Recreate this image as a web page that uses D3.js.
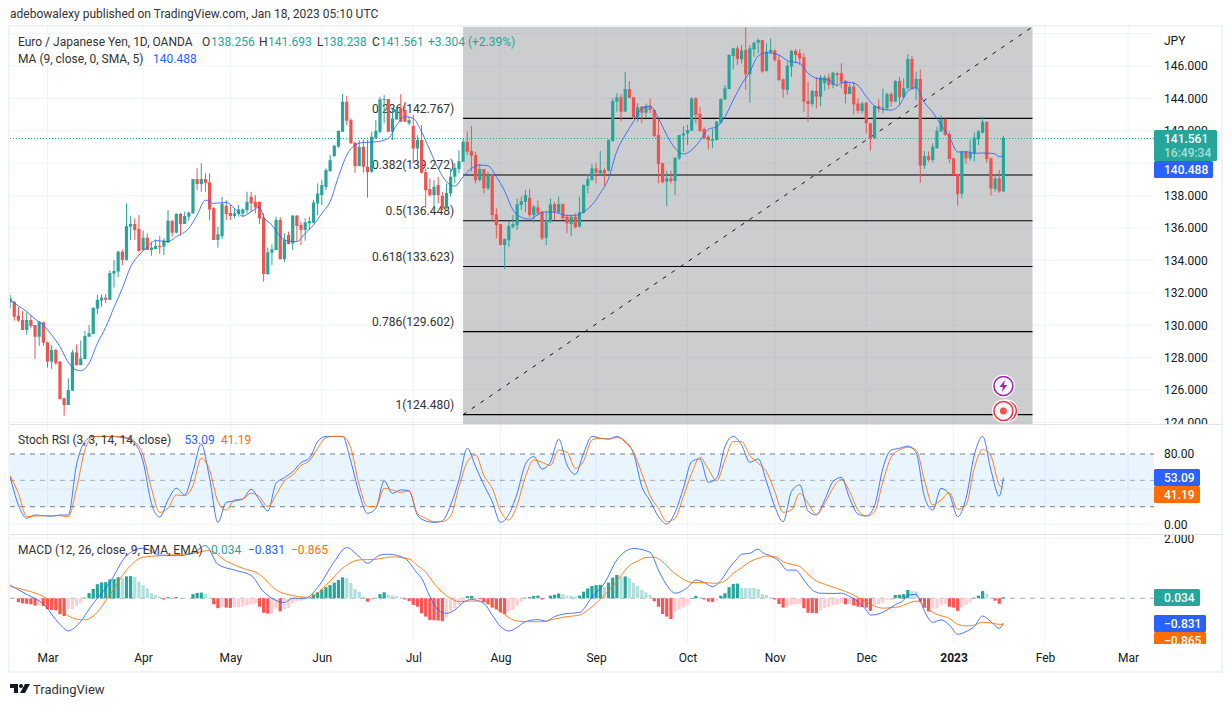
<!DOCTYPE html>
<html>
<head>
<meta charset="utf-8">
<script src="https://cdn.jsdelivr.net/npm/d3@7"></script>
<style>
	html, body {margin: 0; padding: 0; background: #fff;}
	svg {display: block;}
	text {font-family: Roboto, sans-serif; font-size: 12px; fill: #131722;}
</style>
</head>
<body>
<div id="chart"></div>
<script>
// daily candles, one entry per trading day (last one is Jan 18 2023)
var opens = [131.41,131.45,130.59,130.32,129.70,130.32,130.01,129.29,130.18,128.94,
	127.75,128.47,127.75,125.49,125.07,125.96,128.32,127.54,127.91,129.29,
	129.46,131.02,131.52,131.70,131.56,133.18,133.31,134.54,134.03,136.08,
	136.25,135.94,134.64,135.40,134.64,134.70,134.89,134.85,135.10,136.43,
	135.71,136.87,136.25,136.70,136.90,139.02,138.71,139.02,138.81,137.22,
	135.26,135.50,137.37,136.93,136.74,136.87,136.90,137.10,137.93,137.62,
	137.62,136.64,133.16,134.48,134.64,136.50,134.07,135.57,135.05,136.76,
	136.19,135.88,136.29,136.33,137.52,138.03,138.54,139.51,140.44,141.02,
	141.94,143.79,142.66,141.26,139.82,141.01,139.78,139.47,141.53,141.94,
	143.90,143.96,141.94,142.70,143.38,143.28,142.46,142.29,140.91,141.43,
	139.45,138.40,138.03,138.65,137.99,137.21,138.14,139.17,139.64,140.09,
	141.33,140.75,140.50,138.96,139.64,138.45,139.31,136.84,136.24,134.95,
	135.25,136.08,136.18,137.42,137.62,137.87,136.80,137.27,137.00,135.40,
	136.39,137.46,136.97,137.48,136.70,136.25,136.70,136.08,136.94,138.61,
	138.96,139.68,139.37,139.58,139.54,141.37,143.80,144.07,143.18,144.58,
	144.07,142.81,143.49,143.12,143.53,143.28,141.74,139.99,138.86,139.06,
	138.90,140.30,141.70,141.84,142.01,144.00,143.04,142.11,141.64,141.39,
	141.43,142.50,143.94,144.58,146.62,147.09,146.41,146.99,145.50,147.03,
	147.44,147.60,145.69,146.84,146.95,146.37,145.17,144.52,145.96,146.93,
	146.78,146.53,143.84,143.65,144.46,144.11,144.93,145.30,144.83,145.55,
	145.55,145.09,144.27,144.72,143.69,143.22,143.74,142.46,141.53,143.53,
	143.39,143.39,144.27,143.80,145.07,144.07,144.62,146.43,144.62,145.20,
	139.85,140.44,140.20,140.92,141.95,142.73,141.80,140.30,139.33,138.10,
	140.71,140.30,140.61,141.47,141.88,142.56,140.30,138.41,139.06,138.256];
var highs = [131.87,131.49,131.14,130.88,130.80,130.63,130.01,130.22,130.22,128.98,
	128.78,128.53,127.79,125.53,126.72,128.47,128.82,129.05,129.64,130.01,
	131.08,131.87,131.91,131.91,133.37,134.03,134.60,134.68,137.52,136.76,
	136.60,136.80,135.84,135.67,135.16,135.30,135.51,135.36,137.11,136.50,
	136.91,136.91,137.01,137.01,139.02,139.68,139.99,139.37,139.37,137.28,
	136.08,137.93,137.72,137.42,137.22,137.42,137.21,138.24,138.24,138.03,
	137.62,136.91,134.79,134.99,136.70,136.66,135.67,135.77,136.80,136.80,
	136.39,136.60,136.70,137.73,138.75,138.96,139.68,140.50,141.12,142.00,
	144.27,144.16,142.76,141.32,141.43,141.47,141.43,141.94,142.66,144.10,
	144.20,143.96,143.38,143.38,144.27,143.79,142.87,142.97,141.73,142.35,
	139.68,139.06,138.96,139.16,138.24,138.75,139.68,139.99,140.81,141.53,
	141.95,142.30,140.71,139.95,139.64,139.48,139.37,137.21,136.24,135.36,
	136.43,136.80,137.83,137.93,138.34,138.40,137.42,137.69,137.07,137.00,
	137.83,137.62,137.93,137.52,136.80,136.80,136.90,137.93,138.69,139.27,
	139.95,139.99,140.75,139.68,141.47,144.00,144.31,144.27,145.65,145.07,
	144.07,143.69,143.53,143.69,144.00,143.32,142.71,140.03,139.54,139.54,
	140.34,141.74,142.30,142.36,144.07,144.07,143.45,142.21,141.74,142.09,
	142.60,144.00,144.83,146.72,147.13,147.23,147.30,148.39,147.30,147.50,
	147.71,147.60,147.40,147.71,147.03,146.68,145.24,146.27,146.99,147.03,
	147.03,146.78,145.03,144.52,145.34,145.44,145.44,145.55,145.65,145.65,
	146.16,145.13,144.93,145.03,144.00,143.80,143.74,142.50,143.59,143.94,
	144.62,144.35,144.41,145.13,145.34,145.24,146.74,146.62,145.65,145.79,
	140.75,140.71,141.23,142.25,142.93,142.77,141.95,140.34,139.37,140.75,
	140.75,141.43,141.90,142.05,142.87,142.56,140.34,139.33,139.58,141.693];
var lows = [131.04,130.28,130.22,129.70,129.40,129.81,127.91,128.72,128.72,127.38,
	127.30,127.54,125.42,124.41,125.07,125.96,127.50,127.54,127.91,129.29,
	129.46,130.69,131.14,131.35,131.56,132.32,132.96,133.72,133.98,135.26,
	135.26,134.54,134.64,134.64,134.29,134.70,134.40,134.33,135.10,135.47,
	135.67,135.53,136.25,136.45,136.90,138.34,138.24,138.24,136.49,135.26,
	134.79,135.30,136.49,136.49,136.60,136.70,136.69,136.90,137.00,136.90,
	136.25,132.69,133.10,133.72,134.64,134.07,133.90,134.99,134.64,135.16,
	134.95,135.22,135.88,136.29,136.80,137.41,138.34,139.47,140.40,140.97,
	141.94,142.35,141.22,139.41,139.82,139.41,137.87,139.41,141.53,141.84,
	142.46,141.94,141.43,142.70,142.56,142.56,142.35,139.99,139.99,139.37,
	137.21,137.93,137.00,137.52,137.10,137.21,137.93,138.76,139.37,140.09,
	140.50,139.48,138.76,138.86,138.14,138.34,136.39,135.36,134.95,133.45,
	134.85,135.98,135.87,137.11,137.00,136.66,136.33,136.80,135.25,134.95,
	136.29,136.49,136.90,136.49,135.67,135.50,135.98,136.04,136.90,138.14,
	138.92,138.76,139.21,138.61,139.48,141.33,143.18,142.60,143.18,144.00,
	142.73,142.56,142.46,142.83,143.08,141.60,138.76,138.76,137.36,138.76,
	138.04,140.20,140.71,141.12,142.01,142.46,141.95,141.47,140.86,140.92,
	141.39,142.42,143.90,144.56,145.79,146.06,146.16,144.52,143.74,146.58,
	146.78,145.59,145.65,146.78,146.27,145.09,144.04,144.21,145.34,146.16,
	146.06,143.18,142.56,143.49,143.39,143.53,144.48,144.56,144.62,144.83,
	144.62,143.69,144.27,143.02,143.04,143.08,141.84,140.77,141.53,143.12,
	143.08,143.28,143.49,143.80,143.59,144.07,144.56,144.52,143.90,138.80,
	139.64,140.09,140.05,140.92,141.95,141.68,140.03,139.27,137.38,137.83,
	139.99,140.15,140.09,141.12,141.84,140.03,138.00,138.24,138.18,138.238];
var closes = [131.66,130.53,130.28,129.70,130.32,129.95,129.29,130.22,128.92,127.75,
	128.47,127.65,125.44,125.07,126.00,128.32,127.54,127.95,129.33,129.50,
	131.08,131.56,131.70,131.58,133.22,133.35,134.54,134.03,136.12,136.25,
	135.88,134.58,135.40,134.64,134.79,134.89,134.83,135.22,136.45,135.71,
	136.87,136.25,136.74,136.95,139.02,138.71,139.02,138.79,137.15,135.26,
	135.61,137.50,136.86,136.74,136.91,137.15,137.15,137.62,137.52,137.27,
	136.59,133.16,134.50,134.68,136.50,134.07,135.26,135.01,136.76,136.12,
	135.88,136.35,136.43,137.57,138.13,138.65,139.57,140.19,141.08,142.00,
	143.79,142.62,141.22,139.82,141.01,139.78,139.45,141.63,142.00,143.94,
	143.96,141.94,142.76,143.32,142.56,142.56,142.66,140.91,141.43,139.41,
	138.34,138.03,138.54,138.03,137.21,138.17,139.17,139.72,140.13,141.33,
	140.71,140.46,138.96,139.64,138.45,139.31,136.80,136.18,134.95,135.32,
	136.12,136.24,137.46,137.66,138.03,136.80,137.31,136.90,135.36,136.49,
	137.46,137.00,137.48,136.60,136.29,136.70,136.04,136.97,138.65,139.02,
	139.68,139.41,139.58,139.37,141.43,143.84,144.07,143.18,144.58,144.04,
	142.81,143.45,143.12,143.53,143.28,141.68,139.95,138.82,139.06,138.90,
	140.34,141.74,141.84,142.05,144.00,142.97,141.99,141.53,141.43,141.49,
	142.56,143.96,144.62,146.68,147.09,146.43,146.95,145.50,147.09,147.44,
	147.60,145.65,146.88,146.99,146.37,145.13,144.56,146.00,146.93,146.68,
	146.47,143.80,143.65,144.46,144.11,145.30,145.30,144.83,145.59,145.44,
	145.03,144.27,144.72,143.63,143.24,143.69,142.46,141.53,143.53,143.39,
	143.45,144.27,143.80,145.07,144.07,144.62,146.43,144.62,145.20,139.85,
	140.44,140.20,141.02,141.99,142.73,141.74,140.26,139.27,138.10,140.71,
	140.30,140.65,141.57,141.95,142.56,140.26,138.45,139.06,138.26,141.561];

// moving average, read at these bars
var maBars = [0,2,4,6,8,10,12,14,16,17,19,21,23,25,27,29,31,33,35,38,40,43,45,47,49,52,54,56,58,60,61,63,65,67,69,71,73,75,77,79,81,83,85,88,91,93,95,97,99,101,103,105,107,109,111,113,115,117,119,121,123,125,127,129,131,134,136,138,140,142,144,146,148,150,152,154,156,158,160,162,164,166,168,170,172,174,176,178,180,182,185,187,190,192,194,197,199,200,202,204,206,208,210,212,214,216,218,220,222,224,226,228,230,232,234,236,237,238,239];
var maValues = [131.56,131.19,130.84,130.38,130.01,129.40,128.67,127.71,127.23,127.19,127.65,128.88,129.87,131.10,132.28,133.61,134.33,134.81,135.22,135.16,135.47,135.98,136.80,137.72,137.52,137.58,137.21,136.73,137.00,137.30,136.69,136.18,135.46,135.20,135.16,135.67,136.19,136.90,137.63,139.16,140.50,141.12,141.28,141.32,141.53,142.35,142.87,142.76,141.94,140.81,139.68,138.85,138.59,139.16,139.68,139.88,139.84,139.16,138.28,137.11,136.66,136.55,136.82,137.00,136.97,136.78,136.78,137.00,137.42,138.14,139.06,140.75,141.74,142.56,143.39,143.53,142.77,141.74,140.92,140.57,140.81,141.39,142.09,142.25,142.87,143.90,144.87,145.65,146.62,146.82,146.68,146.33,146.16,145.55,145.24,145.13,144.78,144.97,144.99,144.81,144.11,143.53,143.32,143.28,143.59,144.46,144.66,143.74,143.14,142.36,141.64,140.69,140.71,140.61,140.63,140.61,140.57,140.40,140.488];

// stoch rsi, read every second bar
var stochBars = d3.range(0, 239, 2).concat([239]);
var stochK = [54.2,22.0,6.8,10.6,9.8,9.1,10.6,10.6,68.3,94.1,100,100,100,99.4,97.9,92.2,71.3,23.9,8.3,27.7,41.0,33.4,59.9,91.1,52.3,2.2,25.0,26.5,28.8,39.8,27.7,15.1,46.7,53.1,59.9,70.2,75.1,94.1,100,100,100,71.3,35.3,12.5,18.2,49.3,35.3,39.1,38.3,10.6,
	3.8,2.2,3.8,22.0,50.4,86.5,65.6,44.8,25.8,2.2,11.3,35.3,68.3,77.0,63.0,70.6,96.8,67.5,56.9,80.8,100,97.9,97.2,100,93.4,80.8,42.9,26.5,8.7,0.3,13.6,41.0,71.3,74.4,47.8,52.4,88.4,100,90.3,70.6,74.4,48.5,20.1,3.0,37.2,44.8,15.1,10.6,27.7,48.5,
	53.4,29.5,11.7,9.4,21.2,63.7,84.6,86.5,89.1,81.5,31.4,16.2,40.9,34.1,8.6,29.5,78.9,100,61.8,32.2,53.09];
var stochD = [55.4,35.3,8.7,9.4,9.8,9.8,9.8,8.7,41.0,84.6,99.8,100,100,99.8,98.7,94.1,78.9,41.0,13.6,18.2,33.4,32.6,44.0,75.1,61.8,25.8,16.3,27.7,28.8,35.3,31.5,20.1,33.4,49.3,56.1,66.8,72.1,86.5,98.7,100,100,86.5,44.8,20.1,20.1,41.0,39.1,36.4,37.9,12.5,
	6.8,3.0,3.0,9.4,42.9,70.6,78.9,55.4,41.0,15.1,4.9,22.0,54.2,73.2,70.6,66.8,84.6,82.0,63.7,72.1,96.0,97.9,96.8,98.7,94.9,82.0,58.0,32.6,18.2,3.0,6.8,31.5,58.0,76.3,63.0,49.3,73.2,94.1,94.1,78.2,69.4,59.9,37.2,13.6,16.3,35.3,23.9,11.3,23.9,41.0,
	51.2,37.1,16.2,9.4,14.3,48.5,76.2,84.6,87.6,84.6,50.4,21.9,27.6,36.0,17.0,21.9,63.7,85.3,77.7,44.7,41.19];

// macd histogram, one per bar
var macdHist = [.02,0,-.13,-.17,-.18,-.20,-.24,-.22,-.26,-.36,
	-.39,-.40,-.53,-.59,-.36,-.36,-.26,-.17,.02,.18,
	.31,.47,.53,.54,.63,.64,.70,.67,.73,.74,
	.71,.56,.44,.33,.17,.11,.06,-.04,.04,.02,
	.04,.01,.01,.01,.14,.18,.19,.14,.02,-.20,
	-.33,-.30,-.31,-.32,-.30,-.30,-.28,-.24,-.20,-.18,
	-.28,-.48,-.51,-.51,-.33,-.44,-.37,-.33,-.17,-.11,
	-.08,-.03,.01,.13,.20,.29,.37,.44,.52,.61,
	.70,.67,.51,.31,.22,.06,-.11,-.06,.02,.14,
	.20,.11,.09,.07,.03,-.04,-.09,-.22,-.28,-.50,
	-.61,-.72,-.73,-.74,-.76,-.64,-.44,-.33,-.22,-.11,
	.07,.08,-.01,-.03,-.13,-.20,-.31,-.37,-.47,-.52,
	-.44,-.39,-.24,-.11,.02,.04,.08,.09,-.04,0,
	.09,.12,.16,.14,.09,.08,.06,.09,.22,.33,
	.41,.44,.45,.37,.52,.69,.78,.72,.73,.67,
	.52,.41,.28,.20,.12,-.10,-.28,-.52,-.61,-.69,
	-.44,-.36,-.31,-.22,.01,.08,.03,-.04,-.11,-.12,
	-.08,.09,.17,.37,.48,.49,.34,.34,.34,.34,
	.31,.14,.11,.03,-.04,-.19,-.31,-.30,-.22,-.20,
	-.19,-.33,-.48,-.49,-.50,-.40,-.32,-.29,-.23,-.20,
	-.17,-.20,-.19,-.24,-.28,-.29,-.31,-.42,-.22,-.20,
	-.14,-.06,-.06,.11,.12,.14,.28,.24,.23,-.11,
	-.31,-.44,-.37,-.33,-.22,-.19,-.28,-.31,-.42,-.31,
	-.22,-.14,.02,.09,.24,.14,0,-.08,-.18,.034];
var macdBars = [0,4,8,12,14,16,20,24,28,32,36,40,44,47,50,54,58,61,63,66,68,71,74,78,81,84,86,89,91,95,98,99,101,103,105,107,109,111,114,116,118,120,122,124,127,129,131,133,137,140,143,146,148,150,154,156,158,160,163,165,167,169,171,173,175,176,178,180,181,183,185,187,189,191,193,195,198,200,202,204,206,207,209,211,213,215,216,218,219,220,222,224,226,228,230,232,234,236,238,239];
var macdValues = [.44,.13,-.19,-.87,-1.09,-.92,-.17,.53,1.42,1.67,1.44,1.42,1.50,1.76,1.13,.94,.76,.22,0,-.14,0,0,.36,1.22,1.69,1.39,1.17,1.44,1.47,1.33,.83,.67,.06,-.39,-.50,-.39,-.14,-.04,-.17,-.56,-.94,-1.09,-.97,-.78,-.71,-.76,-.61,-.53,-.47,.04,.50,1.28,1.56,1.66,1.53,.94,.44,.17,.36,.61,.53,.39,.59,1.0,1.33,1.47,1.50,1.64,1.53,1.41,1.24,.94,.94,.61,.28,.17,.16,.17,.06,-.11,-.39,-.56,-.52,-.39,-.21,-.06,.11,.13,-.09,-.42,-.80,-.72,-.89,-1.20,-1.11,-.94,-.59,-.78,-1.0,-.831];
var signalBars = [0,4,8,12,14,16,18,20,24,28,32,36,44,48,52,56,60,64,68,72,76,80,84,88,92,96,98,100,102,104,106,108,111,114,116,118,120,122,125,128,131,134,137,139,141,143,145,147,149,151,153,155,157,159,161,164,167,170,172,174,176,178,180,182,184,186,188,190,192,194,196,198,200,202,204,206,208,210,212,214,216,218,220,222,224,226,228,230,232,234,236,238,239];
var signalValues = [.39,.26,.06,-.33,-.58,-.69,-.72,-.59,.11,.94,1.37,1.42,1.50,1.59,1.24,1.0,.80,.28,.09,.03,.44,1.0,1.28,1.30,1.38,1.31,1.09,.87,.50,.20,0,-.11,-.09,-.11,-.23,-.44,-.64,-.76,-.78,-.78,-.69,-.61,-.56,-.39,-.17,.11,.39,.76,1.09,1.24,1.36,1.37,1.22,.94,.72,.53,.52,.50,.58,.83,1.02,1.22,1.33,1.41,1.39,1.22,1.13,1.06,.80,.58,.47,.37,.28,.17,.03,-.13,-.26,-.33,-.31,-.28,-.17,-.09,-.24,-.47,-.58,-.67,-.87,-.92,-.89,-.80,-.82,-.87,-.865];

// axis ticks (140 sits fully behind the value tags, so it is left out)
var priceTicks = [146,144,142,138,136,134,132,130,128,126,124];
var priceGrid = [148,146,144,142,140,138,136,134,132,130,128,126,124];
var stochTicks = [80,0];
var stochGrid = [40,0];
var monthBars = [9,32,53,75,97,118,141,163,184,206,227,249,269];
var monthLabels = ["Mar","Apr","May","Jun","Jul","Aug","Sep","Oct","Nov","Dec","2023","Feb","Mar"];

// fibonacci retracement and its trend line
var fibLevels = ["0.236","0.382","0.5","0.618","0.786","1"];
var fibPrices = [142.767,139.272,136.448,133.623,129.602,124.480];
var fibFromBar = 109, fibToBar = 246, fibTop = 148.416;

var lastBar = 239, lastClose = 141.561, lastMa = 140.488;

var teal = "#26a69a", red = "#ef5350", blue = "#2962ff", orange = "#ff6d00", grid = "#f0f3fa";

var width = 1232, height = 707;
var left = 10, axisX = 1154, right = 1222; //pane edges
var mainPane = {top: 27, bottom: 424}, stochPane = {top: 425, bottom: 534}, macdPane = {top: 535, bottom: 644};

var x = d3.scaleLinear().domain([0, lastBar]).range([10.1, 1003.4]);
var yPrice = d3.scaleLinear().domain([146, 126]).range([66, 390]);
var yStoch = d3.scaleLinear().domain([0, 80]).range([524.3, 454]);
var yMacd = d3.scaleLinear().domain([0, 2]).range([598.3, 538.3]);

var svg = d3.select("#chart").append("svg").attr("width", width).attr("height", height);
var defs = svg.append("defs");

function addClip(id, x0, x1, pane) {
	defs.append("clipPath").attr("id", id).append("rect")
		.attr("x", x0).attr("y", pane.top).attr("width", x1 - x0).attr("height", pane.bottom - pane.top);
}
addClip("clipMain", left, axisX, mainPane);
addClip("clipStoch", left, axisX, stochPane);
addClip("clipMacd", left, axisX, macdPane);
addClip("clipMainAxis", axisX, right, mainPane);
addClip("clipStochAxis", axisX, right, stochPane);
addClip("clipMacdAxis", axisX, right, macdPane);

var main = svg.append("g").attr("clip-path", "url(#clipMain)");
var stochG = svg.append("g").attr("clip-path", "url(#clipStoch)");
var macdG = svg.append("g").attr("clip-path", "url(#clipMacd)");

function hGrid(g, values, y) {
	g.selectAll(".hg").data(values).enter().append("line")
		.attr("class", "hg")
		.attr("x1", left).attr("x2", axisX)
		.attr("y1", d => y(d)).attr("y2", d => y(d))
		.attr("stroke", grid);
}
function vGrid(g, pane) {
	g.selectAll(".vg").data(monthBars).enter().append("line")
		.attr("class", "vg")
		.attr("x1", d => x(d)).attr("x2", d => x(d))
		.attr("y1", pane.top).attr("y2", pane.bottom)
		.attr("stroke", grid);
}
hGrid(main, priceGrid, yPrice); vGrid(main, mainPane);
hGrid(stochG, stochGrid, yStoch); vGrid(stochG, stochPane);
hGrid(macdG, [2], yMacd); vGrid(macdG, macdPane);

//grey fib background
main.append("rect")
	.attr("x", x(fibFromBar)).attr("width", x(fibToBar) - x(fibFromBar))
	.attr("y", mainPane.top).attr("height", mainPane.bottom - mainPane.top)
	.attr("fill", "rgba(128,130,135,0.4)");

//fib labels sit under the candles
main.selectAll(".fibLabel").data(fibPrices).enter().append("text")
	.attr("class", "fibLabel")
	.attr("x", x(fibFromBar) - 9)
	.attr("y", d => yPrice(d) - 10)
	.attr("dy", "0.35em")
	.attr("text-anchor", "end")
	.style("fill", "#333")
	.text((d, i) => fibLevels[i] + "(" + d.toFixed(3) + ")");

main.selectAll(".fibLine").data(fibPrices).enter().append("line")
	.attr("class", "fibLine")
	.attr("x1", x(fibFromBar)).attr("x2", x(fibToBar))
	.attr("y1", d => yPrice(d)).attr("y2", d => yPrice(d))
	.attr("stroke", "#000").attr("stroke-width", 1.1);

//dashed trend line
main.append("line")
	.attr("x1", x(fibFromBar)).attr("y1", yPrice(fibPrices[5]))
	.attr("x2", x(fibToBar)).attr("y2", yPrice(fibTop))
	.attr("stroke", "#000").attr("stroke-width", 0.9).attr("stroke-dasharray", "4,6.5");

//candles
var candles = main.selectAll(".candle").data(closes).enter().append("g").attr("class", "candle");
candles.append("rect")
	.attr("x", (d, i) => x(i) - 0.5)
	.attr("width", 1)
	.attr("y", (d, i) => yPrice(highs[i]))
	.attr("height", (d, i) => yPrice(lows[i]) - yPrice(highs[i]))
	.attr("fill", (d, i) => d >= opens[i] ? teal : red);
candles.append("rect")
	.attr("x", (d, i) => x(i) - 1.6)
	.attr("width", 3.2)
	.attr("y", (d, i) => yPrice(Math.max(d, opens[i])))
	.attr("height", (d, i) => Math.max(1, Math.abs(yPrice(d) - yPrice(opens[i]))))
	.attr("fill", (d, i) => d >= opens[i] ? teal : red);

function drawLine(g, bars, values, y, color) {
	g.append("path")
		.attr("d", d3.line().x(d => x(d)).y((d, i) => y(values[i])).curve(d3.curveMonotoneX)(bars))
		.attr("fill", "none")
		.attr("stroke", color)
		.attr("stroke-opacity", 0.85);
}
drawLine(main, maBars, maValues, yPrice, blue);

//last price dotted line
var lastY = Math.round(yPrice(lastClose)) + 0.5;
main.append("line")
	.attr("x1", left).attr("x2", axisX)
	.attr("y1", lastY).attr("y2", lastY)
	.attr("stroke", teal).attr("stroke-dasharray", "1,2");

//alert icons on the last bar
function circleIcon(cx, cy, color) {
	main.append("circle").attr("cx", cx).attr("cy", cy).attr("r", 10)
		.attr("fill", "#f5f6fa").attr("stroke", "#fff").attr("stroke-width", 3);
	main.append("circle").attr("cx", cx).attr("cy", cy).attr("r", 9.5)
		.attr("fill", "#f5f6fa").attr("stroke", color).attr("stroke-width", 1.6);
}
circleIcon(x(lastBar) + 3.5, 411, "#f23645");
circleIcon(x(lastBar), 411, "#f23645");
main.append("circle").attr("cx", x(lastBar)).attr("cy", 411).attr("r", 3.5).attr("fill", red);
circleIcon(x(lastBar), 386, "#9c27b0");
main.append("path")
	.attr("transform", "translate(" + x(lastBar) + ",386)")
	.attr("d", "M1.5,-6 L-4,1 L-0.5,1 L-1.5,6 L4,-1 L0.5,-1 Z")
	.attr("fill", "#9c27b0");

//stoch rsi pane
stochG.append("rect")
	.attr("x", left).attr("width", axisX - left)
	.attr("y", yStoch(80)).attr("height", yStoch(20) - yStoch(80))
	.attr("fill", "rgba(33,150,243,0.1)");
stochG.selectAll(".band").data([80, 50, 20]).enter().append("line")
	.attr("class", "band")
	.attr("x1", left).attr("x2", axisX)
	.attr("y1", d => yStoch(d)).attr("y2", d => yStoch(d))
	.attr("stroke", "#787b86")
	.attr("stroke-opacity", d => d == 50 ? 0.6 : 1)
	.attr("stroke-dasharray", "5,5");
drawLine(stochG, stochBars, stochK, yStoch, blue);
drawLine(stochG, stochBars, stochD, yStoch, orange);

//macd pane
macdG.append("line")
	.attr("x1", left).attr("x2", axisX)
	.attr("y1", yMacd(0)).attr("y2", yMacd(0))
	.attr("stroke", "#787b86").attr("stroke-opacity", 0.6).attr("stroke-dasharray", "5,5");
macdG.selectAll(".hist").data(macdHist).enter().append("rect")
	.attr("class", "hist")
	.attr("x", (d, i) => x(i) - 1.6)
	.attr("width", 3.2)
	.attr("y", d => yMacd(Math.max(d, 0)))
	.attr("height", d => Math.abs(yMacd(d) - yMacd(0)))
	.attr("fill", function(d, i) {
		var prev = i > 0 ? macdHist[i - 1] : d;
		if (d >= 0) return d > prev ? teal : "#b2dfdb";
		return d < prev ? "#ff5252" : "#ffcdd2";
	});
drawLine(macdG, macdBars, macdValues, yMacd, blue);
drawLine(macdG, signalBars, signalValues, yMacd, orange);

// clip rects live in page coordinates, so wrap each axis in a clipped group
function wrappedAxis(scale, ticks, fmt, clip) {
	var outer = svg.append("g").attr("clip-path", "url(#" + clip + ")");
	var g = outer.append("g")
		.attr("transform", "translate(" + axisX + ",0)")
		.call(d3.axisRight(scale).tickValues(ticks).tickSize(0).tickPadding(10).tickFormat(fmt));
	g.select(".domain").remove();
	g.selectAll("text").style("font-size", "12px").style("fill", "#131722");
}
wrappedAxis(yPrice, priceTicks, d3.format(".3f"), "clipMainAxis");
wrappedAxis(yStoch, stochTicks, d3.format(".2f"), "clipStochAxis");
wrappedAxis(yMacd, [2], d3.format(".3f"), "clipMacdAxis");

//time axis
var timeAxis = svg.append("g")
	.attr("transform", "translate(0," + (macdPane.bottom + 5) + ")")
	.call(d3.axisBottom(x).tickValues(monthBars).tickSize(0).tickPadding(4).tickFormat((d, i) => monthLabels[i]));
timeAxis.select(".domain").remove();
timeAxis.selectAll("text").style("font-size", "12px").style("fill", "#131722")
	.style("font-weight", d => d == 227 ? "bold" : "normal");

//frame and pane separators
svg.append("rect")
	.attr("x", left - 1).attr("y", mainPane.top - 1)
	.attr("width", right - left + 1).attr("height", 672 - mainPane.top + 1)
	.attr("fill", "none").attr("stroke", grid).attr("stroke-width", 2);
[mainPane.bottom + 0.5, stochPane.bottom + 0.5].forEach(function(yy) {
	svg.append("line").attr("x1", left).attr("x2", right).attr("y1", yy).attr("y2", yy)
		.attr("stroke", "#e0e3eb");
});

//value tags
function tagBox(color, y0, y1, tagWidth, g) {
	g.append("rect").attr("x", axisX).attr("y", y0).attr("width", tagWidth).attr("height", y1 - y0)
		.attr("rx", 1.5).attr("fill", color);
}
function tag(value, color, y0, y1, tagWidth, clip) {
	var g = svg.append("g").attr("clip-path", clip ? "url(#" + clip + ")" : null);
	tagBox(color, y0, y1, tagWidth, g);
	g.append("text").attr("x", axisX + 10).attr("y", (y0 + y1) / 2).attr("dy", "0.35em")
		.style("fill", "#fff").style("font-weight", 500).text(value);
}
tagBox(teal, 130, 161, 63, svg);
svg.append("text").attr("x", axisX + 10).attr("y", 139).attr("dy", "0.35em")
	.style("fill", "#fff").style("font-weight", 500).text(lastClose.toFixed(3));
svg.append("text").attr("x", axisX + 10).attr("y", 153).attr("dy", "0.35em")
	.style("fill", "#a8dfd8").style("font-weight", 500).text("16:49:34");
tag(lastMa.toFixed(3), blue, 161, 178, 59);
tag("53.09", blue, 469, 486, 46);
tag("41.19", orange, 486, 503, 46);
tag("0.034", teal, 589, 606, 46);
tag("\u22120.831", blue, 615, 632, 52, "clipMacdAxis");
tag("\u22120.865", orange, 632, 649, 52, "clipMacdAxis");

//legend text
function label(px, py, str, color, size) {
	return svg.append("text").attr("x", px).attr("y", py).attr("dy", "0.35em")
		.style("fill", color || "#131722").style("font-size", (size || 12) + "px").text(str);
}
label(10, 14, "adebowalexy published on TradingView.com, Jan 18, 2023 05:10 UTC", "#333");
label(18, 42, "Euro / Japanese Yen, 1D, OANDA", "#333");
label(202, 42, "O", "#333"); label(211, 42, "138.256", teal);
label(259, 42, "H", "#333"); label(268, 42, "141.693", teal);
label(317, 42, "L", "#333"); label(323, 42, "138.238", teal);
label(372, 42, "C", "#333"); label(380, 42, "141.561", teal);
label(428, 42, "+3.304 (+2.39%)", teal);
label(18, 59, "MA (9, close, 0, SMA, 5)", "#333");
label(153, 59, "140.488", blue);
label(18, 440, "Stoch RSI (3, 3, 14, 14, close)", "#333");
label(184.5, 440, "53.09", blue);
label(221, 440, "41.19", orange);
label(18, 550, "MACD (12, 26, close, 9, EMA, EMA)", "#333");
label(211, 550, "0.034", teal);
label(248, 550, "\u22120.831", blue);
label(291, 550, "\u22120.865", orange);
label(1164, 41, "JPY", "#131722");

//tradingview logo
var logo = svg.append("g").attr("transform", "translate(10,684)");
logo.append("path").attr("d", "M0,0 H8 V9 H4 V4 H0 Z").attr("fill", "#131722");
logo.append("circle").attr("cx", 11).attr("cy", 2).attr("r", 2).attr("fill", "#131722");
logo.append("path").attr("d", "M15,0 H20 L15,9 H10 Z").attr("fill", "#131722");
label(33, 689, "TradingView", "#333", 13);
</script>
</body>
</html>
